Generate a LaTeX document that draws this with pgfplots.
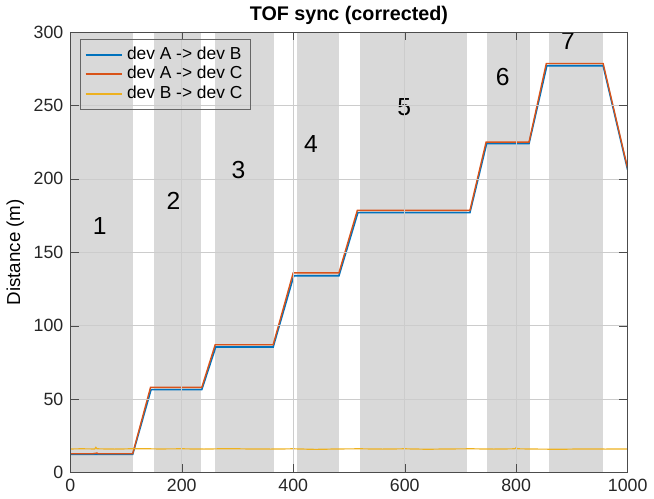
\documentclass[border=0pt]{standalone}
\usepackage{pgfplots}
\pgfplotsset{compat=1.18}
\usepackage{fontspec}
\setmainfont{Liberation Sans}
\definecolor{mblue}{rgb}{0,0.447,0.741}
\definecolor{morange}{rgb}{0.85,0.325,0.098}
\definecolor{myellow}{rgb}{0.929,0.694,0.125}
\definecolor{band}{RGB}{217,217,217}
\begin{document}
\begin{tikzpicture}
\begin{axis}[
  scale only axis,
  width=9.93cm, height=7.85cm,
  xmin=0, xmax=1000, ymin=0, ymax=300,
  xtick={0,200,...,1000}, ytick={0,50,...,300},
  xticklabel style={/pgf/number format/1000 sep={}},
  grid=major,
  major grid style={black!20, line width=0.3pt},
  axis on top,
  axis line style={black!70},
  tick style={black!70},
  tick align=inside,
  /pgf/number format/assume math mode=true,
  ticklabel style={font=\fontsize{9}{10}\selectfont, text=black!85},
  title={\textbf{TOF sync (corrected)}},
  title style={font=\fontsize{10}{12}\selectfont, yshift=-6pt},
  ylabel={Distance (m)},
  ylabel style={font=\fontsize{9.5}{11}\selectfont, yshift=-2pt},
  legend style={at={(0.018,0.985)}, anchor=north west, fill=none,
    draw=black!60, font=\fontsize{8.8}{10}\selectfont,
    row sep=-2pt, inner sep=2pt},
  legend cell align=left,
  legend image code/.code={\draw[#1, line width=1pt] (0cm,0cm) -- (0.65cm,0cm);},
]
% shaded segments
\addplot[fill=band, draw=none, forget plot] coordinates {(0,0)(112,0)(112,300)(0,300)} -- cycle;
\addplot[fill=band, draw=none, forget plot] coordinates {(150,0)(234,0)(234,300)(150,300)} -- cycle;
\addplot[fill=band, draw=none, forget plot] coordinates {(260,0)(365,0)(365,300)(260,300)} -- cycle;
\addplot[fill=band, draw=none, forget plot] coordinates {(407,0)(482,0)(482,300)(407,300)} -- cycle;
\addplot[fill=band, draw=none, forget plot] coordinates {(519,0)(712,0)(712,300)(519,300)} -- cycle;
\addplot[fill=band, draw=none, forget plot] coordinates {(748,0)(824,0)(824,300)(748,300)} -- cycle;
\addplot[fill=band, draw=none, forget plot] coordinates {(859,0)(956,0)(956,300)(859,300)} -- cycle;

\addplot[mblue, line width=0.8pt] coordinates {
(0,12.4)(112,12.4)(145,56.5)(236,56.5)(261,85.5)(364,85.5)(401,134)(482,134)
(516,177)(717,177)(747,224)(823,224)(855,277)(956,277)(1000,206)};
\addlegendentry{dev A -> dev B}
\addplot[morange, line width=0.7pt] coordinates {
(0,12.8)(40,12.8)(48,13.3)(50,12.8)(112,12.8)(144,58)(236,58)(260,87)(364,87)(400,136)(482,136)
(515,178.5)(717,178.5)(746,225)(823,225)(854,278.5)(956,278.5)(1000,207)};
\addlegendentry{dev A -> dev C}
\addplot[myellow, line width=0.6pt] coordinates {
(0,16.1)(20,16.2)(44,16.1)(46,17.2)(48,16.2)(80,16.0)(120,16.3)(160,16.1)(200,16.2)
(240,16.0)(280,16.3)(320,16.1)(360,16.0)(400,16.2)(440,15.8)(480,16.1)(520,16.2)
(560,16.0)(600,16.2)(640,15.9)(680,16.1)(720,16.2)(760,16.0)(798,16.2)(800,17.0)(802,16.2)
(840,16.0)(880,15.9)(920,16.1)(960,16.0)(1000,16.1)};
\addlegendentry{dev B -> dev C}

\node[font=\fontsize{12.5}{14}\selectfont] at (axis cs:53,168) {1};
\node[font=\fontsize{12.5}{14}\selectfont] at (axis cs:185,185) {2};
\node[font=\fontsize{12.5}{14}\selectfont] at (axis cs:302,206) {3};
\node[font=\fontsize{12.5}{14}\selectfont] at (axis cs:432,224) {4};
\node[font=\fontsize{12.5}{14}\selectfont] at (axis cs:599,249) {5};
\node[font=\fontsize{12.5}{14}\selectfont] at (axis cs:776,269) {6};
\node[font=\fontsize{12.5}{14}\selectfont] at (axis cs:893,294) {7};
\end{axis}
\end{tikzpicture}
\end{document}
